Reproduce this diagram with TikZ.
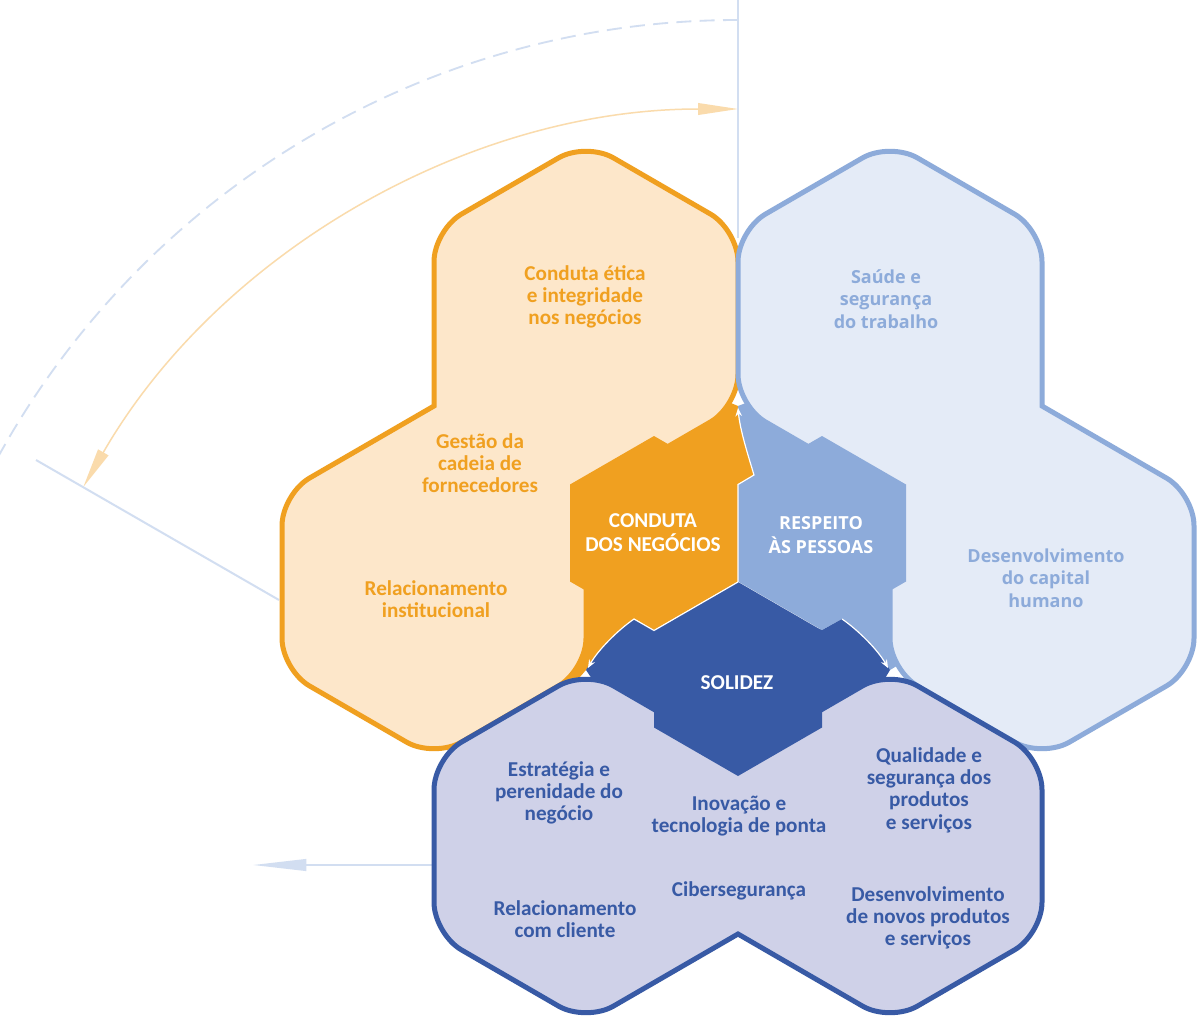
\documentclass[tikz,border=0pt]{standalone}
\usepackage{fontspec}
\setmainfont{Carlito}
\newfontfamily\largafont{Open Sans}
\usetikzlibrary{arrows.meta}
\definecolor{ambar}{HTML}{F0A020}
\definecolor{ambarclaro}{HTML}{FDE7CA}
\definecolor{celeste}{HTML}{8DABDA}
\definecolor{celesteclaro}{HTML}{E4EBF7}
\definecolor{marinho}{HTML}{385AA5}
\definecolor{lavanda}{HTML}{CFD1E8}
\definecolor{guiaazul}{HTML}{D2DEF1}
\definecolor{laranjaclaro}{HTML}{FADBAC}
% small pointy-top hexagon round a centre (px units)
\newcommand{\favo}[2]{(#1,#2-97) -- (#1+84,#2-48.5) -- (#1+84,#2+48.5) -- (#1,#2+97) -- (#1-84,#2+48.5) -- (#1-84,#2-48.5) -- cycle}

\begin{document}
\begin{tikzpicture}[x=0.6pt,y=-0.6pt,
  rotulo/.style={align=center,inner sep=0pt,font=\fontsize{12.7}{13.4}\selectfont\bfseries},
  largo/.style={align=center,inner sep=0pt,font=\largafont\fontsize{10.8}{13.4}\selectfont\bfseries},
  miolo/.style={align=center,inner sep=0pt,text=white,font=\fontsize{12.7}{14.4}\selectfont\bfseries},
  miololargo/.style={align=center,inner sep=0pt,text=white,font=\largafont\fontsize{10.8}{14.4}\selectfont\bfseries},
  casca/.style={line width=3pt,rounded corners=19pt},
  guia/.style={draw=guiaazul,line width=1.2pt},
  fio/.style={draw=white,line width=0.7pt,-{Stealth[length=5pt,width=4pt]}}
]
  % page
  \fill[white] (0,0) rectangle (1200,1020);
  \useasboundingbox (0,0) rectangle (1200,1020);

  % named points
  \coordinate (topo)   at (738,0);
  \coordinate (junta)  at (738,238);
  \coordinate (raioA)  at (36,460);
  \coordinate (raioB)  at (279,600);
  \coordinate (arcoA)  at (83.3,487);
  \coordinate (baseC)  at (432,865);
  \coordinate (pontaC) at (253,865);
  \coordinate (nucleo) at (738,582);
  \coordinate (vtopo)  at (738,408);
  \coordinate (vesq)   at (588,668);
  \coordinate (vdir)   at (888,668);

  % guide arcs and rays
  \draw[draw=guiaazul,line width=1.1pt,dash pattern=on 9pt off 5pt] (738,20) arc[start angle=270,end angle=209,radius=845];
  \draw[draw=laranjaclaro,line width=0.9pt,{Triangle[length=24pt,width=7pt]}-{Triangle[length=24pt,width=7pt]}] (arcoA) arc[start angle=210,end angle=270,radius=756];
  \draw[guia] (topo) -- (junta);
  \draw[guia] (raioA) -- (raioB);
  \draw[guia,-{Triangle[length=32pt,width=7pt]}] (baseC) -- (pontaC);

  % dark sectors
  \fill[ambar] (738,406) .. controls (740,430) and (748,455) .. (754,475) -- (760,520) -- (700,560) -- (640,600) -- (634,619) .. controls (618,630) and (598,650) .. (586,670) -- (560,700) -- (540,640) -- (540,470) -- (700,390) -- cycle;
  \fill[celeste] (738,406) .. controls (740,430) and (748,455) .. (754,475) -- (760,520) -- (780,600) -- (822,630) -- (842,619) .. controls (858,630) and (878,650) .. (890,670) -- (940,640) -- (940,470) -- (780,390) -- cycle;
  \fill[marinho] (586,670) .. controls (598,650) and (618,630) .. (634,619) -- (654,630) -- (738,600) -- (822,630) -- (842,619) .. controls (858,630) and (878,650) .. (890,670) -- (860,720) -- (738,790) -- (620,720) -- cycle;

  % light shells
  \filldraw[casca,fill=ambarclaro,draw=ambar] (662,186) -- (738,230) -- (738,406) -- (662,450) [sharp corners] -- (586,494) -- (586,582) [rounded corners=19pt] -- (586,670) -- (434,758) -- (282,670) -- (282,494) -- (358,450) [sharp corners] -- (434,406) -- (434,318) [rounded corners=19pt] -- (434,230) -- (586,142) -- cycle;
  \filldraw[casca,fill=celesteclaro,draw=celeste] (966,186) -- (1042,230) -- (1042,318) [sharp corners] -- (1042,406) -- (1118,450) [rounded corners=19pt] -- (1194,494) -- (1194,670) -- (1042,758) -- (890,670) -- (890,582) [sharp corners] -- (890,494) -- (814,450) [rounded corners=19pt] -- (738,406) -- (738,230) -- (890,142) -- cycle;
  \filldraw[casca,fill=lavanda,draw=marinho] (510,714) -- (586,670) -- (662,714) [sharp corners] -- (738,758) -- (814,714) [rounded corners=19pt] -- (890,670) -- (1042,758) -- (1042,934) -- (890,1022) -- (814,978) [sharp corners] -- (738,934) -- (662,978) [rounded corners=19pt] -- (586,1022) -- (434,934) -- (434,758) -- cycle;

  % core hexagons
  \fill[ambar] \favo{654}{533};
  \fill[celeste] \favo{822}{533};
  \fill[marinho] \favo{738}{679};

  % white flow lines
  \draw[fio] (nucleo) -- (738,484.5) -- (754,475) .. controls (748,455) and (740,430) .. (vtopo);
  \draw[fio] (nucleo) -- (654,630.5) -- (634,619) .. controls (618,630) and (598,650) .. (vesq);
  \draw[fio] (842,619) .. controls (858,630) and (878,650) .. (vdir);

  % core labels
  \node[miolo] (ncond) at (653,533) {CONDUTA\\DOS NEGÓCIOS};
  \node[miololargo] (nresp) at (821,535) {RESPEITO\\ÀS PESSOAS};
  \node[miolo] (nsol) at (737,683) {SOLIDEZ};

  % orange topics
  \node[rotulo,text=ambar] (conduta) at (585,297) {Conduta ética\\e integridade\\nos negócios};
  \node[rotulo,text=ambar] (gestao)  at (480,463) {Gestão da\\cadeia de\\fornecedores};
  \node[rotulo,text=ambar] (relinst) at (436,599) {Relacionamento\\institucional};

  % blue topics
  \node[largo,text=celeste] (saude)   at (886,299) {Saúde e\\segurança\\do trabalho};
  \node[largo,text=celeste] (capital) at (1046,578) {Desenvolvimento\\do capital\\humano};

  % navy topics
  \node[rotulo,text=marinho] (estrat)  at (559,793) {Estratégia e\\perenidade do\\negócio};
  \node[rotulo,text=marinho] (inov)    at (739,816) {Inovação e\\tecnologia de ponta};
  \node[rotulo,text=marinho] (qual)    at (929,790) {Qualidade e\\segurança dos\\produtos\\e serviços};
  \node[rotulo,text=marinho] (relcli)  at (565,919) {Relacionamento\\com cliente};
  \node[rotulo,text=marinho] (ciber)   at (739,891) {Cibersegurança};
  \node[rotulo,text=marinho] (novos)   at (928,918) {Desenvolvimento\\de novos produtos\\e serviços};
\end{tikzpicture}
\end{document}
